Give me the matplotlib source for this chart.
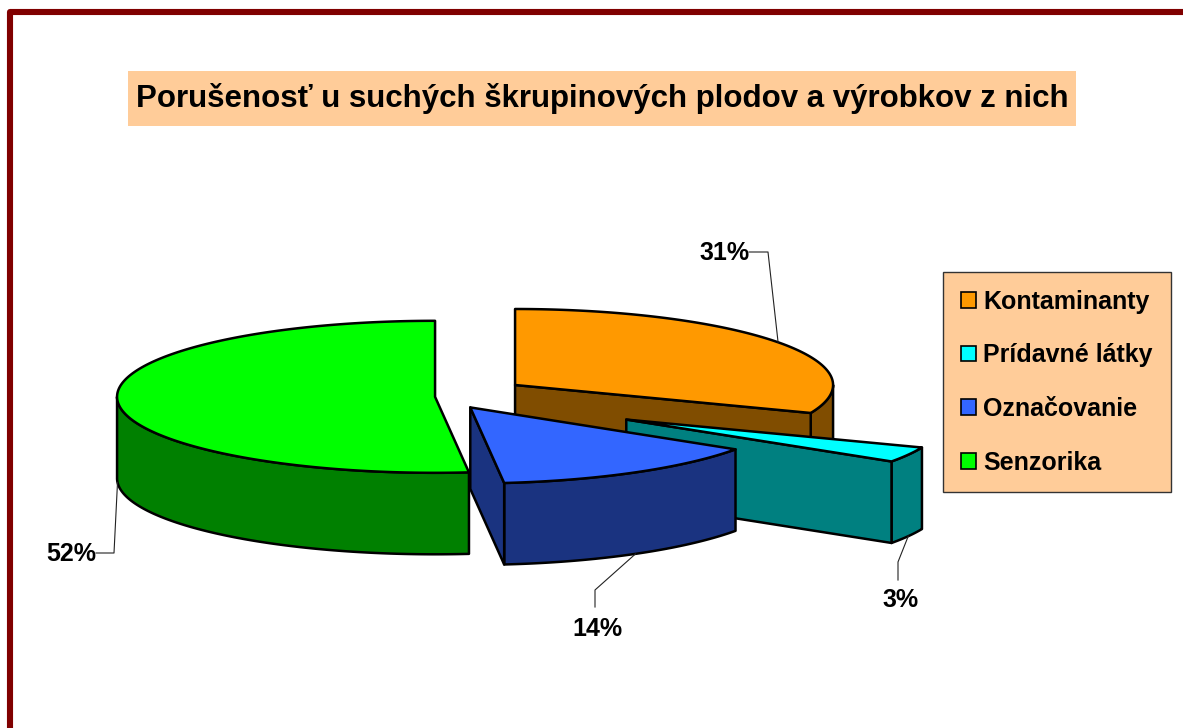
import numpy as np
import matplotlib
matplotlib.use("Agg")
import matplotlib.pyplot as plt
from matplotlib.patches import Patch, Polygon, Rectangle

# Chart data
categories = ["Kontaminanty", "Prídavné látky", "Označovanie", "Senzorika"]
shares = [31.0, 3.3, 14.0, 51.7]  # percent, labels show them rounded
title = "Porušenosť u suchých škrupinových plodov a výrobkov z nich"

# Colours
top_colors = ["#FF9900", "#00FFFF", "#3366FF", "#00FF00"]
side_colors = ["#804D00", "#008080", "#1A3380", "#008000"]
panel_color = "#FFCC99"
frame_color = "#800000"

# Pie geometry, in pixels of the picture
cx, cy = 443, 396.7
rx, ry = 318, 76
depth = 81.5
explode = [0.274, 0.65, 0.165, 0.025]
# elbow of the leader line, its end, then centre of the label
elbows = [(768, 252), (898, 562), (595, 590), (114, 553)]
leader_ends = [(749, 252), (898, 580), (595, 607), (96, 553)]
label_pos = [(725, 253), (901, 600), (597, 629), (71, 554)]

plt.rcParams["font.family"] = ["Liberation Sans", "DejaVu Sans"]

fig = plt.figure(figsize=(11.83, 7.28), dpi=100)
ax = fig.add_axes([0, 0, 1, 1])
ax.set_xlim(0, 1183)
ax.set_ylim(728, 0)
ax.axis("off")

# Dark red frame, runs off the right and bottom of the picture
ax.plot([10, 10, 1200], [745, 12, 12], color=frame_color, lw=4.4, solid_joinstyle="round")

# Title box
ax.add_patch(Rectangle((128, 71), 948, 55, facecolor=panel_color, edgecolor="none"))
ax.text(602, 98, title, ha="center", va="center", fontsize=22.5, fontweight="bold")


def ellipse_pts(x0, y0, a, b):
    t = np.radians(np.linspace(a, b, max(int(abs(b - a)) * 2, 2)))
    return np.column_stack([x0 + rx * np.sin(t), y0 - ry * np.cos(t)])


def add_poly(pts, color):
    ax.add_patch(Polygon(pts, closed=True, facecolor=color, edgecolor="black", lw=1.8, joinstyle="round"))


shift = np.array([0, depth])
start = 0
# clockwise from 12 o'clock, Kontaminanty first; later slices lie in front
for i, share in enumerate(shares):
    end = start + share * 3.6
    mid = np.radians((start + end) / 2)
    x0 = cx + explode[i] * rx * np.sin(mid)
    y0 = cy - explode[i] * ry * np.cos(mid)

    # outer rim, front half only
    a = max(start, 90)
    b = min(end, 270)
    if b > a:
        rim = ellipse_pts(x0, y0, a, b)
        add_poly(np.vstack([rim, rim[::-1] + shift]), side_colors[i])

    # cut faces that turn towards the viewer
    for edge, visible in [(start, np.sin(np.radians(start)) < -1e-6), (end, np.sin(np.radians(end)) > 1e-6)]:
        if visible:
            tip = ellipse_pts(x0, y0, edge, edge + 1)[0]
            add_poly([(x0, y0), tip, tip + shift, (x0, y0 + depth)], side_colors[i])

    # top
    add_poly(np.vstack([[(x0, y0)], ellipse_pts(x0, y0, start, end)]), top_colors[i])

    # leader line and percent label
    ax_pt = [x0 + rx * np.sin(mid), y0 - ry * np.cos(mid)]
    if np.cos(mid) < 0:
        ax_pt[1] += depth
    ax.plot([ax_pt[0], elbows[i][0], leader_ends[i][0]], [ax_pt[1], elbows[i][1], leader_ends[i][1]],
            color="#222222", lw=0.8)
    ax.text(label_pos[i][0], label_pos[i][1], f"{share:.0f}%", ha="center", va="center", fontsize=18, fontweight="bold")

    start = end

# Legend
handles = [Patch(facecolor=c, edgecolor="black", lw=1.2) for c in top_colors]
leg = ax.legend(handles, categories, loc="upper left", bbox_to_anchor=(943.5, 272),
                bbox_transform=ax.transData, borderaxespad=0, prop={"weight": "bold", "size": 18},
                labelspacing=1.19, handlelength=0.6, handleheight=0.6, handletextpad=0.3,
                borderpad=0.7, fancybox=False, framealpha=1, facecolor=panel_color, edgecolor="#333333")
leg.get_frame().set_linewidth(1.0)

fig.savefig("out.png", dpi=100)
